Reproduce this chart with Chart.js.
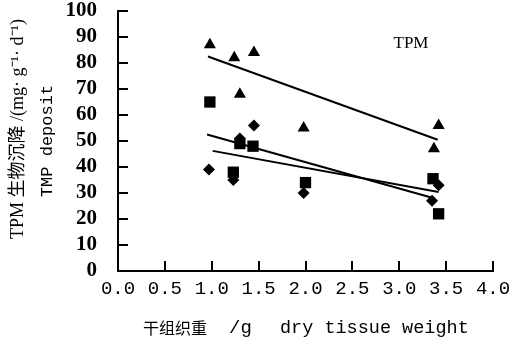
<!DOCTYPE html>
<html>
<head>
<meta charset="utf-8">
<script src="https://cdn.jsdelivr.net/npm/chart.js@4"></script>
<style>
  body { margin: 0; background: #fff; }
  #wrap { width: 510px; height: 340px; }
</style>
</head>
<body>
<div id="wrap"><canvas id="chart" width="510" height="340"></canvas></div>
<script>
// data
const triX = [0.98, 1.24, 1.45, 1.30, 1.98, 3.37, 3.42];
const triY = [87, 82, 84, 68, 55, 47, 56];
const sqX = [0.98, 1.30, 1.44, 1.23, 2.00, 3.36, 3.42];
const sqY = [65, 49, 48, 38, 34, 35.5, 22];
const diaX = [0.97, 1.23, 1.45, 1.30, 1.98, 3.35, 3.42];
const diaY = [39, 35, 56, 51, 30, 27, 33];

// regression lines: [start, end]
const fitTriX = [0.96, 3.41];
const fitTriY = [82.5, 50.5];
const fitAX = [0.95, 3.37];
const fitAY = [52.5, 28];
const fitBX = [1.01, 3.42];
const fitBY = [46.2, 30.4];

const xMin = 0, xMax = 4, xStep = 0.5;
const yMin = 0, yMax = 100, yStep = 10;

const toPts = (xs, ys) => xs.map((x, i) => ({ x: x, y: ys[i] }));

const scatter = (pts, style, r) => ({
  type: 'scatter',
  data: pts,
  pointStyle: style,
  pointRadius: r,
  pointBackgroundColor: '#000',
  pointBorderColor: '#000',
  pointBorderWidth: 0,
  showLine: false
});

const fitLine = (pts) => ({
  type: 'line',
  data: pts,
  borderColor: '#000',
  borderWidth: 2,
  pointRadius: 0,
  fill: false
});

// inward tick marks + axis titles
const decor = {
  id: 'decor',
  afterDraw(chart) {
    const ctx = chart.ctx;
    const xs = chart.scales.x, ys = chart.scales.y;
    const a = chart.chartArea;
    ctx.save();
    ctx.strokeStyle = '#000';
    ctx.lineWidth = 2;
    ctx.beginPath();
    ys.ticks.forEach(t => {
      const py = Math.round(ys.getPixelForValue(t.value));
      ctx.moveTo(a.left, py);
      ctx.lineTo(a.left + 10, py);
    });
    xs.ticks.forEach(t => {
      const px = Math.round(xs.getPixelForValue(t.value));
      ctx.moveTo(px, a.bottom);
      ctx.lineTo(px, a.bottom - 10);
    });
    ctx.stroke();

    ctx.fillStyle = '#000';
    ctx.textBaseline = 'middle';

    // TPM label in plot
    ctx.font = '17px "Liberation Serif", serif';
    ctx.textAlign = 'center';
    ctx.fillText('TPM', 411, 44);

    // x title
    ctx.textAlign = 'left';
    ctx.font = '16px "Noto Sans CJK SC", serif';
    ctx.fillText('干组织重', 143, 328);
    ctx.font = '19px "Liberation Mono", monospace';
    ctx.fillText('/g', 229, 328);
    ctx.font = '18.5px "Liberation Mono", monospace';
    ctx.fillText('dry tissue weight', 280, 328);

    // y title, rotated
    ctx.translate(18, 129);
    ctx.rotate(-Math.PI / 2);
    ctx.textAlign = 'center';
    ctx.font = '18px "Liberation Serif", "Noto Sans CJK SC", serif';
    ctx.fillText('TPM 生物沉降 /(mg· g⁻¹· d⁻¹)', 0, 0);
    ctx.font = '17px "Liberation Mono", monospace';
    ctx.fillText('TMP deposit', -12, 29);
    ctx.restore();
  }
};

new Chart(document.getElementById('chart'), {
  data: {
    datasets: [
      scatter(toPts(triX, triY), 'triangle', 7),
      scatter(toPts(sqX, sqY), 'rect', 8),
      scatter(toPts(diaX, diaY), 'rectRot', 6),
      fitLine(toPts(fitTriX, fitTriY)),
      fitLine(toPts(fitAX, fitAY)),
      fitLine(toPts(fitBX, fitBY))
    ]
  },
  options: {
    responsive: false,
    animation: false,
    layout: { padding: { top: 11, right: 17, left: 0, bottom: 0 } },
    plugins: { legend: { display: false }, tooltip: { enabled: false } },
    scales: {
      x: {
        type: 'linear',
        min: xMin, max: xMax,
        grid: { display: true, drawOnChartArea: false, drawTicks: false },
        border: { display: true, color: '#000', width: 2 },
        ticks: {
          stepSize: xStep,
          autoSkip: false,
          padding: 7,
          color: '#000',
          font: { family: '"Liberation Mono", monospace', size: 19 },
          callback: v => v.toFixed(1)
        },
        afterFit(s) { s.height = 69; s.paddingLeft = 0; s.paddingRight = 0; }
      },
      y: {
        min: yMin, max: yMax,
        grid: { display: true, drawOnChartArea: false, drawTicks: false },
        border: { display: true, color: '#000', width: 2 },
        ticks: {
          stepSize: yStep,
          autoSkip: false,
          padding: 21,
          color: '#000',
          font: { family: '"Liberation Serif", serif', size: 21, weight: 'bold' }
        },
        afterFit(s) { s.width = 118; s.paddingTop = 0; s.paddingBottom = 0; }
      }
    }
  },
  plugins: [decor]
});
</script>
</body>
</html>
